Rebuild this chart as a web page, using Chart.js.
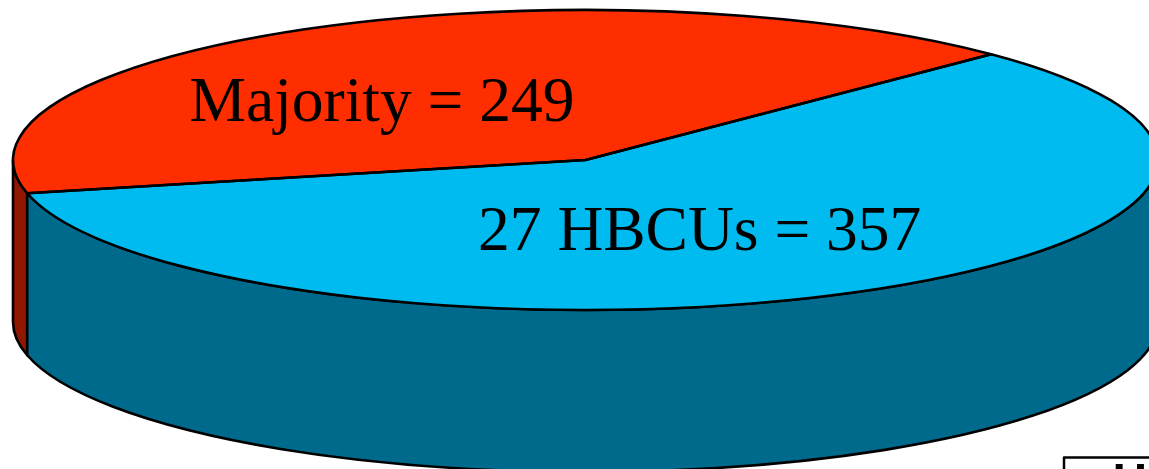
<!DOCTYPE html>
<html>
<head>
<meta charset="utf-8">
<style>html,body{margin:0;padding:0;background:#fff;overflow:hidden}#wrap{position:relative;width:1149px;height:469px}</style>
<script src="https://cdn.jsdelivr.net/npm/chart.js@4"></script>
</head>
<body>
<div id="wrap"><canvas id="c" width="1149" height="469"></canvas></div>
<script>
const categories = ['Majority', '27 HBCUs'];
const seriesValues = [249, 357];
const sliceLabels = ['Majority = 249', '27 HBCUs = 357'];
const topColors = ['#ff2e00', '#00bbf0'];
const wallColors = ['#901800', '#006a8c'];
const startRotation = 257.2;
const cornerText = 'H';

const view = {cx: 585.5, cy: 160, rx: 572.5, ry: 150, depth: 162};
const labelPos = [[189.5, 121], [478, 250]];
const strokeWidth = 2.6;

const pie3d = {
  id: 'pie3d',
  beforeDatasetsDraw(chart) {
    const ctx = chart.ctx, arcs = chart.getDatasetMeta(0).data;
    const {cx, cy, rx, ry, depth} = view;
    ctx.save();
    ctx.lineWidth = strokeWidth; ctx.strokeStyle = '#000'; ctx.lineJoin = 'round';
    arcs.forEach((arc, i) => {
      for (let k = -1; k <= 2; k++) {
        const a = Math.max(arc.startAngle, 2 * Math.PI * k);
        const b = Math.min(arc.endAngle, 2 * Math.PI * k + Math.PI);
        if (b <= a) continue;
        ctx.beginPath();
        ctx.ellipse(cx, cy, rx, ry, 0, a, b);
        ctx.ellipse(cx, cy + depth, rx, ry, 0, b, a, true);
        ctx.closePath();
        ctx.fillStyle = wallColors[i];
        ctx.fill(); ctx.stroke();
      }
    });
    ctx.restore();
    // squash the library's round pie into the tilted top face
    const p = arcs[0];
    ctx.save();
    ctx.translate(cx, cy);
    ctx.scale(rx / p.outerRadius, ry / p.outerRadius);
    ctx.translate(-p.x, -p.y);
  },
  afterDatasetsDraw(chart) {
    const ctx = chart.ctx, arcs = chart.getDatasetMeta(0).data;
    const {cx, cy, rx, ry} = view;
    ctx.restore();
    ctx.save();
    ctx.lineWidth = strokeWidth; ctx.strokeStyle = '#000'; ctx.lineJoin = 'round';
    arcs.forEach(arc => {
      ctx.beginPath();
      ctx.moveTo(cx, cy);
      ctx.ellipse(cx, cy, rx, ry, 0, arc.startAngle, arc.endAngle);
      ctx.closePath();
      ctx.stroke();
    });
    ctx.fillStyle = '#000';
    ctx.textBaseline = 'alphabetic';
    ctx.textAlign = 'left';
    ctx.font = '63.5px "Liberation Serif"';
    sliceLabels.forEach((t, i) => ctx.fillText(t, labelPos[i][0], labelPos[i][1]));
    // partly visible box in the lower right corner
    ctx.lineWidth = 2.5;
    ctx.strokeRect(1064, 457.5, 120, 60);
    ctx.font = 'bold 48px "Liberation Sans"';
    ctx.fillText(cornerText, 1112.5, 497);
    ctx.restore();
  }
};

new Chart(document.getElementById('c'), {
  type: 'pie',
  data: {
    labels: categories,
    datasets: [{data: seriesValues, backgroundColor: topColors, borderWidth: 0, hoverOffset: 0}]
  },
  options: {
    responsive: false,
    animation: false,
    rotation: startRotation,
    layout: {padding: 0},
    plugins: {legend: {display: false}, tooltip: {enabled: false}}
  },
  plugins: [pie3d]
});
</script>
</body>
</html>
